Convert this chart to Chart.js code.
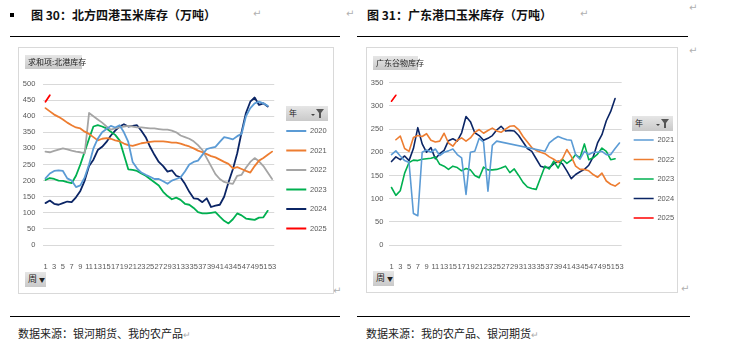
<!DOCTYPE html>
<html>
<head>
<meta charset="utf-8">
<script src="https://cdn.jsdelivr.net/npm/chart.js@4.4.1/dist/chart.umd.min.js"></script>
<style>
  body { margin: 0; width: 731px; height: 353px; background: #fff; position: relative; overflow: hidden;
         font-family: "Noto Sans CJK SC", sans-serif; }
  .abs { position: absolute; }
  .title { font-weight: bold; font-size: 12px; line-height: 18px; top: 6px; white-space: nowrap; color: #111; }
  .rule { height: 1px; background: #000; }
  .panel { border: 1px solid #d9d9d9; box-sizing: border-box; }
  .btn { background: linear-gradient(#e6e6e6, #c9c9c9); font-size: 8px; color: #222; line-height: 14px;
         padding: 0 3px; box-sizing: border-box; white-space: nowrap; }
  .mark { color: #b0b0b0; font-size: 10px; font-family: "DejaVu Sans", sans-serif; line-height: 12px; }
  .src { font-size: 11px; line-height: 16px; top: 325px; white-space: nowrap; color: #222; }
  canvas { position: absolute; }
</style>
</head>
<body>
<div class="abs" style="left:10px;top:13px;width:4px;height:4px;background:#000"></div>
<div class="abs title" style="left:31px">图 30：北方四港玉米库存（万吨）</div>
<div class="abs title" style="left:367px">图 31：广东港口玉米库存（万吨）</div>
<div class="abs mark" style="left:253px;top:8px">↵</div>
<div class="abs mark" style="left:346px;top:8px">↵</div>
<div class="abs mark" style="left:580px;top:8px">↵</div>
<div class="abs mark" style="left:689px;top:2px">↵</div>
<div class="abs mark" style="left:689px;top:45px">↵</div>
<div class="abs mark" style="left:333px;top:285px">↵</div>
<div class="abs mark" style="left:681px;top:283px">↵</div>
<div class="abs rule" style="left:10px;top:36px;width:330px"></div>
<div class="abs rule" style="left:357px;top:36px;width:331px"></div>

<div class="abs panel" style="left:18px;top:47px;width:316px;height:247px"></div>
<div class="abs panel" style="left:366px;top:47px;width:312px;height:246px"></div>

<canvas id="north" width="322" height="247" style="left:18px;top:47px"></canvas>
<canvas id="gd" width="322" height="246" style="left:366px;top:47px"></canvas>

<div class="abs btn" style="left:25px;top:55px;width:57px;height:14px">求和项:北港库存</div>
<div class="abs btn" style="left:373px;top:56px;width:45px;height:14px">广东谷物库存</div>
<div class="abs btn" style="left:25px;top:272px;width:21px;height:15px;font-size:9px">周<span style="font-size:6px;margin-left:2px">▼</span></div>
<div class="abs btn" style="left:373px;top:271px;width:21px;height:15px;font-size:9px">周<span style="font-size:6px;margin-left:2px">▼</span></div>

<div class="abs btn" style="left:286px;top:106px;width:42px;height:15px;font-size:8px">年
  <svg style="position:absolute;right:3px;top:3px" width="14" height="9"><path d="M0 5 L4 5 L2 7 Z" fill="#444"/><path d="M5 0 L13 0 L10 4 L10 9 L8 9 L8 4 Z" fill="#555"/></svg></div>
<div class="abs btn" style="left:632px;top:116px;width:41px;height:15px;font-size:8px">年
  <svg style="position:absolute;right:3px;top:3px" width="14" height="9"><path d="M0 5 L4 5 L2 7 Z" fill="#444"/><path d="M5 0 L13 0 L10 4 L10 9 L8 9 L8 4 Z" fill="#555"/></svg></div>

<div class="abs rule" style="left:10px;top:316px;width:330px"></div>
<div class="abs rule" style="left:357px;top:316px;width:333px"></div>
<div class="abs src" style="left:18px">数据来源：银河期货、我的农产品<span style="color:#aaa;font-size:9px">↵</span></div>
<div class="abs src" style="left:366px">数据来源：我的农产品、银河期货<span style="color:#aaa;font-size:9px">↵</span></div>

<script>
// 周次
const weeks = ['1','2','3','4','5','6','7','8','9','10','11','12','13','14','15','16','17','18','19','20',
  '21','22','23','24','25','26','27','28','29','30','31','32','33','34','35','36','37','38','39','40',
  '41','42','43','44','45','46','47','48','49','50','51','52','53'];

// 北方四港玉米库存（万吨）
const north2020 = [207,222,230,232,230,207,200,180,185,210,250,300,330,350,360,370,365,372,350,320,
  258,238,225,218,212,205,205,198,190,200,205,210,228,250,258,262,280,298,302,305,
  320,335,332,328,338,345,400,425,440,445,440,432,null];
const north2021 = [425,415,405,398,390,380,372,365,362,352,345,335,325,330,332,330,325,322,315,310,
  308,312,316,318,320,322,322,322,320,318,318,315,310,306,300,293,288,282,276,272,
  265,258,252,238,242,236,230,225,245,262,270,280,290];
const north2022 = [290,288,292,296,300,297,293,290,288,285,410,400,390,380,368,358,362,365,368,370,
  368,365,365,364,362,362,360,358,358,355,350,340,335,330,322,310,295,270,245,220,
  205,196,192,190,215,218,240,258,270,260,245,225,205];
const north2023 = [202,208,205,200,199,195,192,215,250,290,330,368,372,368,362,352,342,325,280,235,
  233,230,222,215,205,195,185,165,152,142,147,140,128,125,115,102,98,98,100,102,
  88,75,67,80,98,92,82,80,78,85,86,106,null];
const north2024 = [130,138,128,125,130,135,133,148,168,200,245,265,295,305,320,340,355,368,375,368,
  370,372,355,335,305,280,258,245,228,232,215,210,190,165,145,143,133,145,118,122,
  125,150,195,235,285,350,410,445,458,435,440,430,null];
const north2025 = [445,465];

// 广东港口玉米库存（万吨）
const gd2021 = [195,203,192,182,178,68,63,200,205,200,207,193,200,203,207,195,188,109,200,202,
  230,222,116,215,224,null,null,null,null,null,null,null,null,null,null,202,220,228,234,230,
  227,226,195,185,202,195,200,200,202,195,195,208,220];
const gd2022 = [null,227,235,208,202,232,236,234,240,226,222,224,241,220,213,226,231,224,231,243,
  249,241,247,252,246,243,250,256,257,249,234,222,210,204,200,197,190,185,178,186,
  206,191,170,163,163,160,152,146,155,138,131,127,134];
const gd2023 = [124,107,117,155,178,183,182,185,186,187,190,174,170,163,170,167,160,165,162,150,
  145,168,162,162,163,166,170,156,164,150,135,125,122,120,145,170,164,181,166,185,
  176,183,195,188,218,184,188,196,209,202,184,186,null];
const gd2024 = [180,190,184,192,182,208,253,218,200,210,186,197,204,225,229,224,242,277,266,242,
  236,226,230,236,248,256,246,247,246,236,222,208,202,186,170,167,167,175,181,175,
  160,143,152,158,163,172,190,220,238,268,288,316,null];
const gd2025 = [310,323];

const northTicks = [0, 500, 50];
const gdTicks = [0, 350, 50];

const blue = '#5B9BD5', orange = '#ED7D31', gray = '#A5A5A5',
      green = '#00B050', navy = '#0B2565', red = '#FF0000';

Chart.defaults.font.family = '"Liberation Sans", Arial, sans-serif';
Chart.defaults.color = '#595959';

function series(label, data, color, width, extra) {
  return Object.assign({
    label: label,
    data: data,
    borderColor: color,
    backgroundColor: color,
    borderWidth: width,
    pointRadius: 0,
    pointHoverRadius: 0,
    tension: 0,
    fill: false,
    borderJoinStyle: 'round',
    borderCapStyle: 'round'
  }, extra || {});
}

function makeChart(id, datasets, ticks, axisWidth, labelPad, pad, legendTop) {
  const ctx = document.getElementById(id).getContext('2d');
  return new Chart(ctx, {
    type: 'line',
    data: { labels: weeks, datasets: datasets },
    options: {
      responsive: false,
      animation: false,
      layout: { padding: pad },
      plugins: {
        tooltip: { enabled: false },
        legend: {
          position: 'right',
          align: 'start',
          title: { display: true, text: '', font: { size: 10 }, padding: { top: legendTop, bottom: 0 } },
          labels: {
            usePointStyle: true,
            pointStyle: 'line',
            pointStyleWidth: 20,
            padding: 12,
            color: '#595959',
            font: { size: 7.5 }
          }
        }
      },
      scales: {
        x: {
          offset: true,
          grid: { display: false },
          border: { display: false },
          afterFit: function (s) { s.height = 30; },
          ticks: {
            autoSkip: false,
            maxRotation: 0,
            minRotation: 0,
            padding: 9,
            font: { size: 7.5 },
            callback: function (value, index) {
              return index % 2 === 0 ? this.getLabelForValue(value) : '';
            }
          }
        },
        y: {
          min: ticks[0],
          max: ticks[1],
          grid: { color: '#d9d9d9', lineWidth: 1, drawTicks: false },
          border: { display: false },
          afterFit: function (s) { s.width = axisWidth; },
          ticks: { stepSize: ticks[2], padding: labelPad, font: { size: 7.5 } }
        }
      }
    }
  });
}

makeChart('north', [
  series('2020', north2020, blue, 1.8),
  series('2021', north2021, orange, 1.8),
  series('2022', north2022, gray, 1.8),
  series('2023', north2023, green, 1.8),
  series('2024', north2024, navy, 1.8),
  series('2025', north2025, red, 1.8)
], northTicks, 25.3, 8, { top: 37, right: 3.3, bottom: 19, left: 0 }, 19.25);

makeChart('gd', [
  series('2021', gd2021, blue, 1.6, { spanGaps: true }),
  series('2022', gd2022, orange, 1.6),
  series('2023', gd2023, green, 1.6),
  series('2024', gd2024, navy, 1.6),
  series('2025', gd2025, red, 1.6)
], gdTicks, 23.3, 6, { top: 35.7, right: 3.9, bottom: 18, left: 0 }, 29.55);
</script>
</body>
</html>
